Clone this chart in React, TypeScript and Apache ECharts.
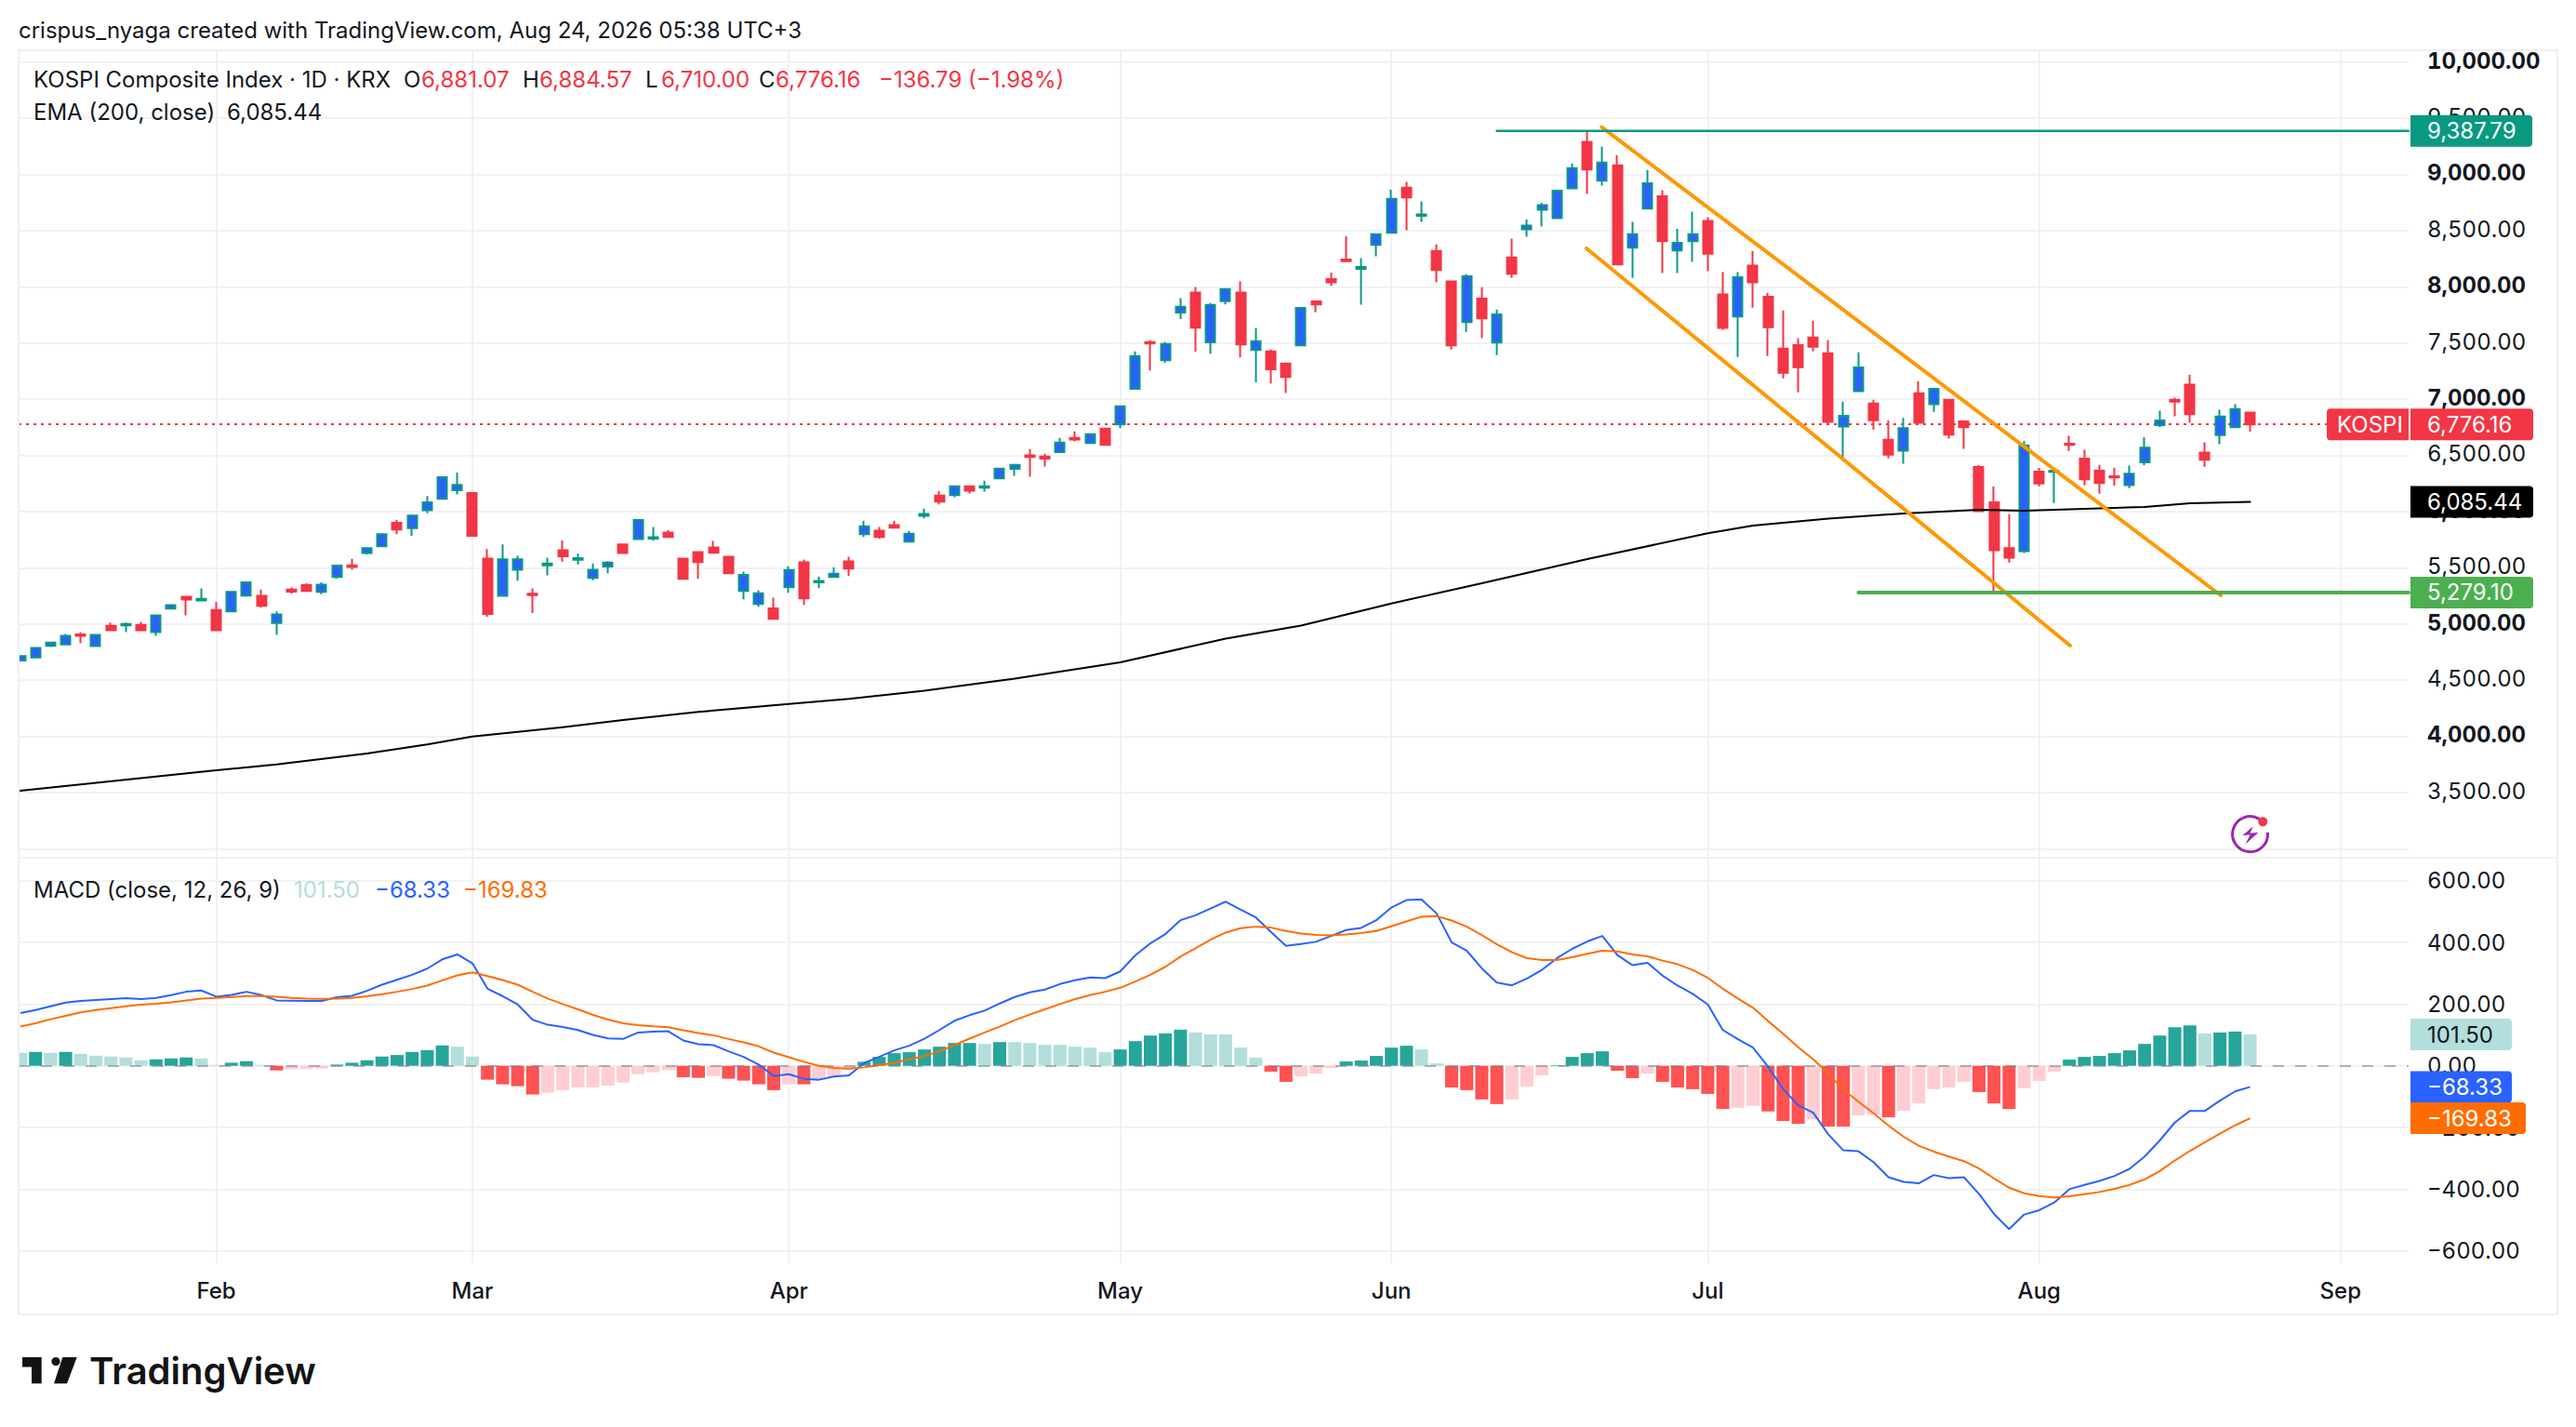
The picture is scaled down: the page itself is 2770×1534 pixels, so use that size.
import React, { useEffect, useRef } from "react";
import * as echarts from "echarts";

const opens = [
  4674,4702,4806,4818,4907,4802,4983,4987,4991,4927,
  5136,5241,5208,5124,5112,5253,5249,5008,5305,5345,
  5285,5418,5522,5631,5691,5900,5852,6012,6113,6189,
  6165,5582,5249,5482,5268,5522,5655,5570,5409,5510,
  5707,5755,5760,5813,5581,5639,5680,5598,5294,5178,
  5139,5327,5548,5371,5418,5556,5799,5829,5879,5733,
  5962,6141,6147,6224,6213,6296,6379,6500,6489,6528,
  6655,6610,6737,6776,7091,7507,7347,7770,7949,7505,
  7872,7949,7438,7425,7317,7478,7870,8069,8243,8160,
  8373,8481,8881,8632,8320,8047,7685,7895,7503,8262,
  8511,8685,8610,8876,9290,8945,9080,8348,8696,8806,
  8323,8406,8586,7931,7735,8188,7912,7450,7481,7550,
  7409,6757,7072,6961,6638,6542,7053,6956,6994,6803,
  6397,6081,5675,5647,6355,6352,6604,6471,6363,6314,
  6236,6438,6770,6994,7129,6524,6679,6751,6881.07,
];
const highs = [
  4714,4786,4842,4911,4927,4903,5011,5011,5019,5076,
  5176,5249,5317,5196,5285,5373,5305,5112,5325,5361,
  5369,5518,5578,5675,5807,5924,5964,6137,6306,6346,
  6170,5666,5707,5606,5317,5590,5743,5626,5538,5558,
  5707,5932,5862,5835,5581,5644,5738,5598,5465,5297,
  5233,5512,5573,5421,5504,5598,5918,5863,5918,5827,
  6025,6183,6224,6224,6274,6381,6426,6555,6514,6655,
  6713,6696,6746,6936,7425,7524,7510,7899,7999,7855,
  7988,8048,7632,7441,7317,7811,7881,8127,8450,8254,
  8467,8864,8933,8760,8378,8047,8113,7997,7798,8428,
  8599,8748,8865,9097,9387.79,9248,9171,8577,9039,8859,
  8516,8668,8619,8130,8130,8320,7947,7790,7542,7699,
  7525,6978,7417,6995,6810,6834,7160,7102,6994,6803,
  6413,6222,5976,6629,6388,6388,6673,6549,6416,6391,
  6408,6662,6897,7013,7215,6615,6905,6955,6884.57,
];
const lows = [
  4674,4702,4794,4818,4827,4802,4935,4927,4943,4895,
  5128,5076,5200,4935,5104,5241,5144,4903,5268,5285,
  5265,5402,5482,5618,5691,5799,5783,5984,6113,6153,
  5783,5064,5249,5385,5096,5433,5554,5530,5389,5450,
  5631,5755,5741,5766,5402,5402,5633,5451,5219,5153,
  5046,5277,5170,5319,5410,5426,5774,5758,5857,5733,
  5940,6064,6127,6161,6177,6296,6318,6310,6401,6528,
  6624,6602,6594,6743,7091,7256,7323,7712,7422,7405,
  7844,7372,7149,7140,7055,7478,7773,8008,8221,7840,
  8271,8481,8503,8577,8039,7442,7599,7542,7392,8080,
  8445,8536,8602,8867,8826,8900,8199,8080,8696,8122,
  8122,8221,8138,7616,7376,7815,7384,7185,7061,7426,
  6779,6448,7072,6729,6473,6426,6790,6887,6648,6557,
  6000,5279.1,5545,5631,6225,6076,6540,6234,6159,6231,
  6209,6410,6751,6847,6789,6399,6599,6742,6710,
];
const closes = [
  4714,4786,4834,4895,4895,4903,4943,5000,4943,5076,
  5168,5216,5224,4943,5285,5369,5160,5084,5288,5293,
  5349,5518,5506,5675,5799,5840,5964,6081,6306,6237,
  5783,5088,5574,5574,5256,5538,5602,5586,5482,5546,
  5631,5924,5771,5774,5402,5551,5633,5451,5437,5272,
  5046,5479,5228,5382,5446,5493,5868,5774,5857,5802,
  5978,6089,6224,6185,6224,6381,6415,6486,6470,6613,
  6641,6688,6594,6936,7383,7496,7491,7822,7637,7839,
  7979,7488,7516,7265,7198,7811,7843,8039,8229,8177,
  8467,8782,8795,8643,8149,7478,8094,7718,7754,8116,
  8544,8726,8856,9055,9044,9105,8199,8467,8922,8406,
  8392,8467,8295,7633,8086,8039,7641,7235,7285,7467,
  6798,6851,7282,6812,6506,6743,6790,7091,6684,6751,
  6004,5656,5589,6587,6250,6363,6593,6286,6253,6303,
  6336,6568,6811,6977,6867,6460,6845,6911,6776.16,
];
const emaPoints = [
  [0,3515],[13,3698],[17,3750],[23,3847],[27,3928],[30,3998],[36,4080],[40,4145],[45,4217],
  [51,4288],[55,4333],[60,4406],[66,4513],[73,4658],[80,4869],[85,4985],[91,5182],[97,5362],
  [104,5577],[112,5806],[115,5875],[120,5937],[125,5983],[130,6016],[133,6007],[138,6028],
  [141,6041],[144,6074],[148,6085.44],
];
const histogram = [
  42,45,42,45,39,33,30,27,18,21,
  24,27,24,3,10,15,3,-15,-11,-11,
  -9,4,10,18,30,35,45,51,66,62,
  30,-45,-60,-66,-93,-87,-79,-70,-70,-64,
  -54,-27,-21,-14,-37,-39,-33,-42,-48,-60,
  -79,-60,-60,-46,-36,-13,13,29,41,44,
  53,62,74,74,71,77,77,74,68,68,
  62,59,44,53,80,98,105,117,108,102,
  102,59,26,-19,-52,-34,-25,-7,14,17,
  32,59,65,53,8,-70,-79,-109,-124,-109,
  -67,-31,2,29,41,47,-16,-40,-25,-52,
  -70,-76,-91,-140,-136,-130,-148,-179,-188,-173,
  -197,-197,-161,-158,-167,-146,-122,-76,-70,-52,
  -85,-122,-140,-73,-49,-19,20,29,32,41,
  50,71,98,125,131,105,108,111,101.5,
];
const histKinds =
  "LDLDLLLLLD" + "DDLLDDLRPP" + "PDDDDDDDDL" + "LRRRRPPPPP" + "PPPPRRPRRR" +
  "RPRPPPDDDD" + "DDDDLDLLLL" + "LLLDDDDDLL" + "LLLRRPPPDD" + "DDDLLRRRRP" +
  "PPDDDDRRPR" + "RRRRPPRRRP" + "RRPPRPPPPP" + "RRRPPPDDDD" + "DDDDDLDDL";
const macdLine = [
  171,181,193,205,210,213,216,219,216,220,229,240,244,224,230,240,229,212,211,210,
  210,222,227,243,263,279,295,315,345,361,332,250,226,199,149,133,126,116,100,89,
  87,108,111,112,82,70,67,47,29,4,-33,-27,-42,-45,-35,
  -31,9,29,50,65,88,116,146,164,179,202,223,238,247,265,277,286,284,306,358,
  397,427,472,488,510,532,506,481,434,389,395,402,421,440,447,472,513,537,539,494,
  400,373,316,270,261,283,311,349,379,403,421,359,326,334,292,260,
  233,199,116,86,59,-3,-75,-128,-152,-222,-274,-277,-312,-361,-376,-381,-354,-364,-361,-415,
  -480,-529,-482,-468,-443,-400,-386,-373,-357,-334,-294,-242,-184,-146,-146,-113,-83,-68.33,
];
const signalLine = [
  127,138,151,162,173,181,187,193,198,201,206,212,218,220,223,226,226,224,220,218,
  217,218,220,225,232,240,249,260,277,293,303,291,278,263,240,218,200,183,165,150,
  138,132,128,125,115,106,99,87,76,63,43,28,13,0,-7,
  -9,-5,2,10,21,32,47,67,88,108,127,148,166,183,200,216,229,240,253,273,
  295,321,354,381,409,432,446,451,448,437,429,424,423,426,430,437,452,468,483,485,
  471,451,424,394,368,349,343,343,352,363,373,371,361,355,341,329,
  311,285,250,218,188,145,104,60,21,-25,-77,-116,-154,-194,-230,-259,-278,-294,-309,-333,
  -365,-395,-413,-422,-427,-423,-416,-409,-399,-386,-368,-341,-307,-276,-248,-220,-193,-169.83,
];
const upperChannel = [[104.96,9421],[146.05,5254]];
const lowerChannel = [[103.95,8342],[136.05,4807]];
const highLine = [[98,9387.79],[158.52,9387.79]];
const lowLine = [[122,5279.1],[158.52,5279.1]];
const monthTicks = [13,30,51,73,91,112,134,154];
const monthNames = ["Feb","Mar","Apr","May","Jun","Jul","Aug","Sep"];
const priceGrid = [10000,9500,9000,8500,8000,7500,7000,6500,6000,5500,5000,4500,4000,3500,3000];
const priceLabels = [10000,9500,9000,8500,8000,7500,7000,6500,6000,5500,5000,4500,4000,3500];
const boldPrices = [10000,9000,8000,7000,6000,5000,4000];
const macdTicks = [600,400,200,0,-200,-400,-600];
const lastClose = 6776.16;

const FONT = "Inter, 'Noto Sans', sans-serif";
const INK = "#131722";
const RED = "#f23645";
const GRID = "#f2f2f4";
const HIST: Record<string, string> = { D: "#26a69a", L: "#b2dfdb", R: "#ff5252", P: "#ffcdd2" };

const fmt = (v: number) =>
  (v < 0 ? "\u2212" : "") +
  Math.abs(v).toLocaleString("en-US", { minimumFractionDigits: 2, maximumFractionDigits: 2 });

const txt = (x: number, y: number, text: string, fill = INK, size = 24, weight = 400, align = "left") => ({
  type: "text", x, y, z: 120, silent: true,
  style: { text, fill, font: `${weight} ${size}px ${FONT}`, textAlign: align, textVerticalAlign: "middle" },
});
const tag = (x: number, w: number, y: number, fill: string, r: number[]) => ({
  type: "rect", z: 110, silent: true,
  shape: { x, y: y - 17, width: w, height: 34, r }, style: { fill },
});

export default function App() {
  const ref = useRef<HTMLDivElement>(null);
  useEffect(() => {
    document.body.style.margin = "0";
    const chart = echarts.init(ref.current!, undefined, { renderer: "svg" });
    const xBase = {
      type: "value", min: -0.1235, max: 158.52, scale: true,
      axisLine: { show: false },
      axisTick: { show: false, customValues: monthTicks },
      splitLine: { show: true, lineStyle: { color: GRID, width: 2 } },
    };
    const lineSeries = (data: number[][], color: string, width: number, z = 5) => ({
      type: "line", xAxisIndex: 0, yAxisIndex: 0, data, symbol: "none", z, silent: true,
      lineStyle: { color, width, cap: "round" },
    });
    chart.setOption({
      animation: false,
      backgroundColor: "#ffffff",
      grid: [
        { left: 20, top: 54, width: 2570, height: 867 },
        { left: 20, top: 921, width: 2570, height: 437 },
      ],
      xAxis: [
        { ...xBase, gridIndex: 0, axisLabel: { show: false } },
        {
          ...xBase, gridIndex: 1,
          axisLabel: {
            show: true, customValues: monthTicks, margin: 17, color: INK, fontFamily: FONT,
            fontSize: 24, fontWeight: 500,
            formatter: (v: number) => monthNames[monthTicks.indexOf(v)] ?? "",
          },
        },
      ],
      yAxis: [
        {
          type: "value", gridIndex: 0, position: "right", min: 2928, max: 10105, scale: true,
          axisLine: { show: false },
          axisTick: { show: false, customValues: priceGrid },
          splitLine: { show: true, lineStyle: { color: GRID, width: 2 } },
          axisLabel: {
            show: true, customValues: priceLabels, align: "left", margin: 20, showMinLabel: true, showMaxLabel: true,
            padding: [0, 0, 3, 0],
            formatter: (v: number) => (boldPrices.includes(v) ? `{b|${fmt(v)}}` : `{n|${fmt(v)}}`),
            rich: {
              b: { fontFamily: FONT, fontSize: 24, fontWeight: 700, color: INK },
              n: { fontFamily: FONT, fontSize: 24, fontWeight: 400, color: INK },
            },
          },
        },
        {
          type: "value", gridIndex: 1, position: "right", min: -640, max: 677.5, scale: true,
          axisLine: { show: false },
          axisTick: { show: false, customValues: macdTicks },
          splitLine: { show: true, lineStyle: { color: GRID, width: 2 } },
          axisLabel: {
            show: true, customValues: macdTicks, align: "left", margin: 20, color: INK,
            fontFamily: FONT, fontSize: 24, formatter: (v: number) => fmt(v),
          },
        },
      ],
      series: [
        {
          type: "candlestick", name: "KOSPI", xAxisIndex: 0, yAxisIndex: 0, barWidth: 10.5, z: 3,
          data: opens.map((o, i) => [i, o, closes[i], lows[i], highs[i]]),
          itemStyle: { color: "#2962ff", borderColor: "#089981", color0: RED, borderColor0: RED, borderWidth: 2 },
          markLine: {
            silent: true, symbol: "none", z: 2, label: { show: false },
            lineStyle: { color: RED, width: 2, type: [3, 5] },
            data: [{ yAxis: lastClose }],
          },
        },
        { ...lineSeries(emaPoints, "#000000", 2, 4), name: "EMA (200, close)" },
        lineSeries(upperChannel, "#ff9800", 4),
        lineSeries(lowerChannel, "#ff9800", 4),
        lineSeries(highLine, "#089981", 2.5),
        lineSeries(lowLine, "#4caf50", 4),
        {
          type: "bar", name: "Histogram", xAxisIndex: 1, yAxisIndex: 1, barWidth: 14, z: 2,
          data: histogram.map((v, i) => ({
            value: [i, v], itemStyle: { color: HIST[histKinds[i]] },
          })),
          markLine: {
            silent: true, symbol: "none", z: 3, label: { show: false },
            lineStyle: { color: "rgba(120,123,134,0.55)", width: 2, type: [12, 12] },
            data: [{ yAxis: 0 }],
          },
        },
        {
          type: "line", name: "MACD", xAxisIndex: 1, yAxisIndex: 1, symbol: "none", z: 4, silent: true,
          data: macdLine.map((v, i) => [i, v]), lineStyle: { color: "#2962ff", width: 2 },
        },
        {
          type: "line", name: "Signal", xAxisIndex: 1, yAxisIndex: 1, symbol: "none", z: 5, silent: true,
          data: signalLine.map((v, i) => [i, v]), lineStyle: { color: "#ff6d00", width: 2 },
        },
      ],
    });

    const py = (v: number) => chart.convertToPixel({ yAxisIndex: 0 }, v) as number;
    const my = (v: number) => chart.convertToPixel({ yAxisIndex: 1 }, v) as number;
    const px = (v: number) => chart.convertToPixel({ xAxisIndex: 0 }, v) as number;
    const R4 = [0, 4, 4, 0];
    const valueTags: [number, number, string, string, number, number[]][] = [
      [py(9387.79), 131, "#089981", "#ffffff", 9387.79, R4],
      [py(lastClose), 132, RED, "#ffffff", lastClose, R4],
      [py(6085.44), 132, "#000000", "#ffffff", 6085.44, R4],
      [py(5279.1), 132, "#4caf50", "#ffffff", 5279.1, R4],
      [my(101.5), 109, "#b2dfdb", INK, 101.5, R4],
      [my(-68.33), 109, "#2962ff", "#ffffff", -68.33, R4],
      [my(-169.83), 124, "#ff6d00", "#ffffff", -169.83, R4],
    ];
    const frame = { stroke: "#f0f0f2", lineWidth: 2, fill: "none" };
    const cx = px(148), cy = 896.7;
    chart.setOption({
      graphic: [
        { type: "rect", z: 105, silent: true, shape: { x: 0, y: 54, width: 19, height: 1304 }, style: { fill: "#ffffff" } },
        { type: "rect", z: 106, silent: true, shape: { x: 20, y: 54, width: 2730, height: 1359 }, style: frame },
        { type: "line", z: 106, silent: true, shape: { x1: 20, y1: 922, x2: 2750, y2: 922 }, style: { stroke: "#f0f0f2", lineWidth: 2 } },
        txt(20, 32, "crispus_nyaga created with TradingView.com, Aug 24, 2026 05:38 UTC+3"),
        txt(36, 85, "KOSPI Composite Index \u00b7 1D \u00b7 KRX"),
        txt(434, 85, "O"), txt(453, 85, "6,881.07", RED),
        txt(562, 85, "H"), txt(580, 85, "6,884.57", RED),
        txt(694, 85, "L"), txt(711, 85, "6,710.00", RED),
        txt(816, 85, "C"), txt(834, 85, "6,776.16", RED),
        txt(945, 85, "\u2212136.79 (\u22121.98%)", RED),
        txt(36, 120, "EMA (200, close)"), txt(244, 120, "6,085.44"),
        txt(36, 956, "MACD (close, 12, 26, 9)"),
        txt(316, 956, "101.50", "#b2dfdb"), txt(403, 956, "\u221268.33", "#2962ff"), txt(498, 956, "\u2212169.83", "#ff6d00"),
        ...valueTags.flatMap(([y, w, fill, ink, v, r]) => [tag(2592, w, y, fill, r), txt(2610, y, fmt(v), ink)]),
        tag(2502, 88, py(lastClose), RED, [4, 0, 0, 4]),
        txt(2513, py(lastClose), "KOSPI", "#ffffff"),
        { type: "arc", z: 115, silent: true, shape: { cx, cy, r: 19, startAngle: -0.1, endAngle: 5.25, clockwise: true }, style: { stroke: "#9c27b0", lineWidth: 3, fill: "none" } },
        { type: "polygon", z: 115, silent: true, shape: { points: [[cx + 3.3, cy - 8.5], [cx - 8.3, cy + 1.5], [cx + 0, cy + 0.5], [cx - 5, cy + 10.8], [cx + 9, cy - 2], [cx + 0, cy - 1]] }, style: { fill: "#9c27b0" } },
        { type: "circle", z: 115, silent: true, shape: { cx: cx + 13.7, cy: cy - 13.4, r: 5 }, style: { fill: RED } },
        { type: "polygon", z: 115, silent: true, shape: { points: [[24, 1459], [44.7, 1459], [44.7, 1487.3], [34, 1487.3], [34, 1469.5], [24, 1469.5]] }, style: { fill: "#131313" } },
        { type: "circle", z: 115, silent: true, shape: { cx: 60, cy: 1463.5, r: 4.6 }, style: { fill: "#131313" } },
        { type: "polygon", z: 115, silent: true, shape: { points: [[67.3, 1459], [82.7, 1459], [72, 1487.3], [58, 1487.3]] }, style: { fill: "#131313" } },
        txt(96, 1473, "TradingView", "#131313", 40, 600),
      ],
    });
    return () => chart.dispose();
  }, []);
  return <div ref={ref} style={{ position: "fixed", left: 0, top: 0, width: 2770, height: 1534, fontVariantNumeric: "tabular-nums" }} />;
}
